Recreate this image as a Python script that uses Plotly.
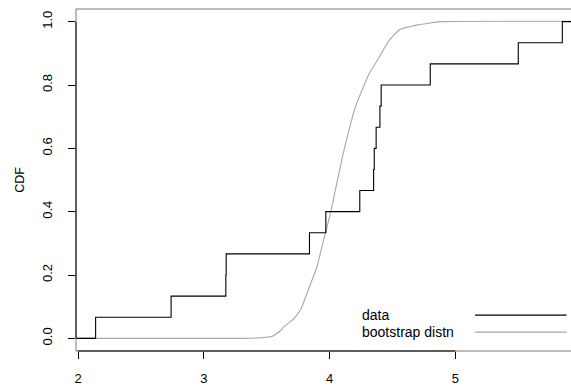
import plotly.graph_objects as go

# ---- data ----
data_x = [2.14, 2.74, 3.175, 3.178, 3.84, 3.97, 4.24, 4.35, 4.355, 4.37, 4.40, 4.41, 4.80, 5.50, 5.85]

boot_x = [3.30, 3.41, 3.54, 3.61, 3.63, 3.71, 3.77, 3.84, 3.90, 3.93, 4.01,
          4.10, 4.14, 4.20, 4.27, 4.32, 4.39, 4.43, 4.48, 4.56, 4.69, 4.80, 4.88]
boot_y = [0.0, 0.001, 0.006, 0.024, 0.034, 0.060, 0.091, 0.163, 0.226, 0.275, 0.401,
          0.570, 0.635, 0.725, 0.795, 0.840, 0.885, 0.913, 0.944, 0.975, 0.989, 0.996, 1.0]

x_ticks = [2, 3, 4, 5]
x_tick_labels = ["2", "3", "4", "5"]
y_ticks = [0.0, 0.2, 0.4, 0.6, 0.8, 1.0]
y_tick_labels = ["0.0", "0.2", "0.4", "0.6", "0.8", "1.0"]
legend_labels = ["data", "bootstrap distn"]

x_range = [1.984, 5.919]
y_range = [-0.04, 1.04]

# ECDF of data (step function)
n = len(data_x)
ecdf_x = [x_range[0] - 1] + data_x + [x_range[1] + 1]
ecdf_y = [0.0] + [(i + 1) / n for i in range(n)] + [1.0]

bx = [x_range[0] - 1] + boot_x + [x_range[1] + 1]
by = [0.0] + boot_y + [1.0]

FONT = "Liberation Sans, Arial, Helvetica, sans-serif"
GRAY = "#a8a8a8"

fig = go.Figure()
fig.add_trace(go.Scatter(x=bx, y=by, mode="lines",
                         line=dict(color=GRAY, width=1.1, shape="spline", smoothing=0.5),
                         showlegend=False, hoverinfo="skip"))
fig.add_trace(go.Scatter(x=ecdf_x, y=ecdf_y, mode="lines", line=dict(color="black", width=1.1, shape="hv"),
                         showlegend=False, hoverinfo="skip"))

fig.update_layout(
    width=571, height=386,
    margin=dict(l=76, r=0, t=9, b=31),
    paper_bgcolor="white", plot_bgcolor="white",
    font=dict(family=FONT, size=13, color="black"),
    xaxis=dict(range=x_range, tickvals=x_ticks, ticktext=x_tick_labels,
               ticks="outside", ticklen=7, tickwidth=1, tickcolor="black",
               showgrid=False, zeroline=False, showline=False,
               ticklabelstandoff=8, tickfont=dict(size=13)),
    yaxis=dict(range=y_range, tickvals=y_ticks, ticktext=y_tick_labels,
               ticks="outside", ticklen=7, tickwidth=1, tickcolor="black",
               showgrid=False, zeroline=False, showline=False, tickangle=-90,
               ticklabelstandoff=11, tickfont=dict(size=13),
               title=dict(text="CDF", font=dict(size=12.5), standoff=12)),
)

# plot box (top, left, bottom) in gray
for (x0, y0, x1, y1) in [(0, 1, 1.02, 1), (0, 0, 0, 1), (0, 0, 1.02, 0)]:
    fig.add_shape(type="line", xref="paper", yref="paper", x0=x0, y0=y0, x1=x1, y1=y1,
                  line=dict(color="#777777", width=1))
# axis lines spanning first to last tick
fig.add_shape(type="line", xref="x", yref="paper", x0=x_ticks[0], x1=x_ticks[-1], y0=0, y1=0,
              line=dict(color="black", width=1))
fig.add_shape(type="line", xref="paper", yref="y", x0=0, x1=0, y0=y_ticks[0], y1=y_ticks[-1],
              line=dict(color="black", width=1))

# legend (no box): text left, line samples right
leg_y = [0.105, 0.055]
leg_colors = ["black", GRAY]
for lab, yy, col in zip(legend_labels, leg_y, leg_colors):
    fig.add_annotation(x=0.574, y=yy, xref="paper", yref="paper", text=lab, showarrow=False,
                       xanchor="left", yanchor="middle", font=dict(size=14, color="black"))
    fig.add_shape(type="line", xref="paper", yref="paper", x0=0.806, x1=0.991, y0=yy, y1=yy,
                  line=dict(color=col, width=1.2))

fig.write_html("out.html")
